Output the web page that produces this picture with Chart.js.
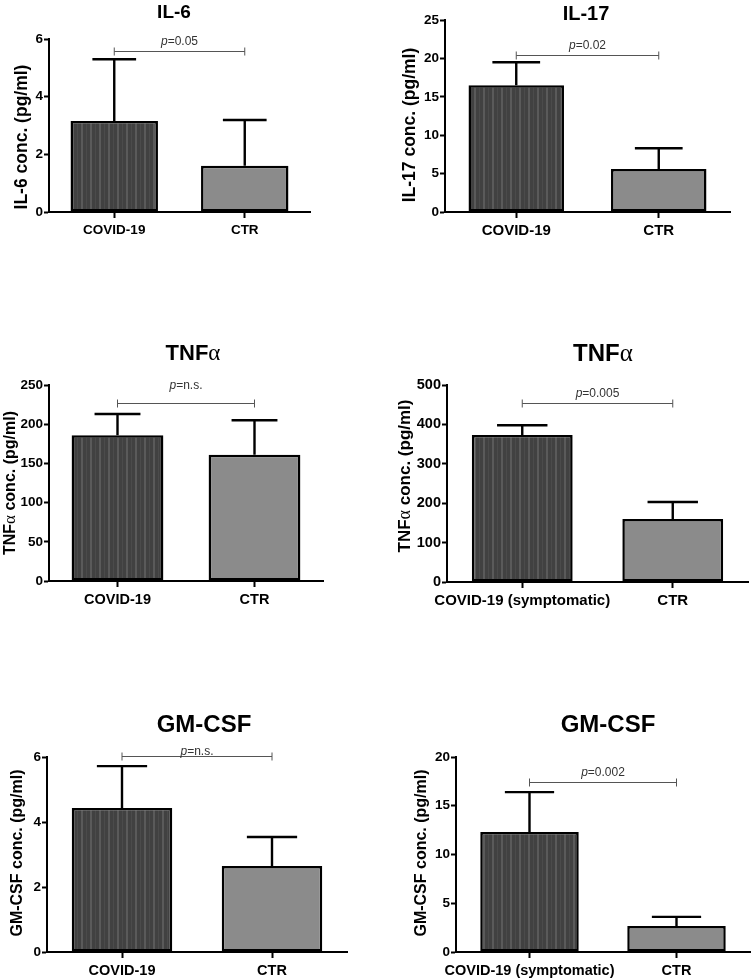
<!DOCTYPE html>
<html>
<head>
<meta charset="utf-8">
<script src="https://cdn.jsdelivr.net/npm/chart.js@4.4.0/dist/chart.umd.min.js"></script>
<style>
  body { margin: 0; background: #fff; }
  #page { position: relative; width: 751px; height: 980px; background: #fff; overflow: hidden; }
  canvas { position: absolute; }
</style>
</head>
<body>
<div id="page"></div>
<script>
// groups on the x axis
var groups = ['COVID-19', 'CTR'];
var groupsSymp = ['COVID-19 (symptomatic)', 'CTR'];

// bar heights (mean) and upper error (SD)
var il6Mean = [3.16, 1.6];
var il6Err = [2.14, 1.59];
var il17Mean = [16.5, 5.6];
var il17Err = [3.0, 2.7];
var tnfMean = [186, 161];
var tnfErr = [27, 44];
var tnfSympMean = [373, 160];
var tnfSympErr = [25, 43];
var gmMean = [4.43, 2.65];
var gmErr = [1.29, 0.89];
var gmSympMean = [12.3, 2.67];
var gmSympErr = [4.1, 0.93];

// y axis ranges and tick steps
var yMax = [6, 25, 250, 500, 6, 20];
var yStep = [2, 5, 50, 100, 2, 5];

// significance brackets
var pLabels = ['0.05', '0.02', 'n.s.', '0.005', 'n.s.', '0.002'];
var bracketLevels = [5.6, 20.5, 227, 455, 6.02, 17.4];

var FONT = "'Liberation Sans', Arial, Helvetica, sans-serif";
var SERIF = "'Liberation Serif', 'Times New Roman', serif";
Chart.defaults.font.family = FONT;

// stripes for the COVID bars
var stripeCanvas = document.createElement('canvas');
stripeCanvas.width = 9; stripeCanvas.height = 4;
var sg = stripeCanvas.getContext('2d');
sg.fillStyle = '#414141'; sg.fillRect(0, 0, 9, 4);
sg.fillStyle = '#5a5a5a'; sg.fillRect(0, 0, 2, 4);
sg.fillStyle = '#4b4b4b'; sg.fillRect(5, 0, 1, 4);
var stripes = sg.createPattern(stripeCanvas, 'repeat');

function richText(str, size) {
  // greek alpha set in a serif face, like the original
  var parts = [];
  str.split(/(α)/).forEach(function (s) {
    if (!s) return;
    if (s === 'α') parts.push({ t: s, f: (size + 1) + 'px ' + SERIF });
    else parts.push({ t: s, f: 'bold ' + size + 'px ' + FONT });
  });
  return parts;
}

// box = canvas [x, y, w, h]; area = plot area [left, top, right, bottom], page px
var panels = [
  { title: 'IL-6', yTitle: 'IL-6 conc. (pg/ml)', labels: groups, mean: il6Mean, err: il6Err,
    box: [0, 0, 375, 245], area: [49, 39, 310, 212], titlePos: [174, 11, 19], yTitlePos: [21, 137, 17.5],
    xFont: 13.5, yFont: 13.5, pGap: 11 },
  { title: 'IL-17', yTitle: 'IL-17 conc. (pg/ml)', labels: groups, mean: il17Mean, err: il17Err,
    box: [375, 0, 376, 245], area: [445, 20, 730, 212], titlePos: [586, 12.5, 20], yTitlePos: [409, 125, 17.5],
    xFont: 15, yFont: 13.5, pGap: 10.5 },
  { title: 'TNFα', yTitle: 'TNFα conc. (pg/ml)', labels: groups, mean: tnfMean, err: tnfErr,
    box: [0, 325, 375, 295], area: [49, 385, 323, 581], titlePos: [193, 352, 22], yTitlePos: [9, 483, 16],
    xFont: 14.5, yFont: 13.5, pGap: 19 },
  { title: 'TNFα', yTitle: 'TNFα conc. (pg/ml)', labels: groupsSymp, mean: tnfSympMean, err: tnfSympErr,
    box: [375, 325, 376, 295], area: [447, 385, 748, 582], titlePos: [603, 352, 24], yTitlePos: [404, 476, 17],
    xFont: 15, yFont: 14.5, pGap: 10.5 },
  { title: 'GM-CSF', yTitle: 'GM-CSF conc. (pg/ml)', labels: groups, mean: gmMean, err: gmErr,
    box: [0, 695, 375, 285], area: [47, 757, 347, 952], titlePos: [204, 723, 24], yTitlePos: [16, 853, 16],
    xFont: 14.5, yFont: 13.5, pGap: 6 },
  { title: 'GM-CSF', yTitle: 'GM-CSF conc. (pg/ml)', labels: groupsSymp, mean: gmSympMean, err: gmSympErr,
    box: [375, 695, 376, 285], area: [456, 757, 750, 952], titlePos: [608, 723, 24], yTitlePos: [420, 853, 16],
    xFont: 14.5, yFont: 13.5, pGap: 11 }
];

function drawParts(ctx, parts, cx, cy, color, rotate) {
  var w = 0;
  parts.forEach(function (p) { ctx.font = p.f; w += ctx.measureText(p.t).width; });
  var size = parseFloat(parts[0].f.match(/(\d+(\.\d+)?)px/)[1]);
  ctx.save();
  ctx.translate(cx, cy);
  if (rotate) ctx.rotate(-Math.PI / 2);
  var x = -w / 2, base = 0.36 * size;
  ctx.fillStyle = color;
  ctx.textAlign = 'left';
  ctx.textBaseline = 'alphabetic';
  parts.forEach(function (p) {
    ctx.font = p.f;
    ctx.fillText(p.t, x, base);
    x += ctx.measureText(p.t).width;
  });
  ctx.restore();
}

var decor = {
  id: 'decor',
  afterDatasetsDraw: function (chart, args, o) {
    var ctx = chart.ctx, xs = chart.scales.x, ys = chart.scales.y;
    var meta = chart.getDatasetMeta(0);
    ctx.save();
    // error bars, upper side only
    ctx.strokeStyle = '#000';
    ctx.lineWidth = 2.4;
    meta.data.forEach(function (bar, i) {
      var top = ys.getPixelForValue(o.mean[i] + o.err[i]);
      var half = bar.width / 4;
      ctx.beginPath();
      ctx.moveTo(bar.x, bar.y);
      ctx.lineTo(bar.x, top);
      ctx.moveTo(bar.x - half, top);
      ctx.lineTo(bar.x + half, top);
      ctx.stroke();
    });
    // bracket
    var by = Math.round(ys.getPixelForValue(o.bracket)) + 0.5;
    var x1 = xs.getPixelForValue(0), x2 = xs.getPixelForValue(1);
    ctx.strokeStyle = '#555';
    ctx.lineWidth = 1;
    ctx.beginPath();
    ctx.moveTo(x1, by); ctx.lineTo(x2, by);
    ctx.moveTo(x1, by - 4); ctx.lineTo(x1, by + 4);
    ctx.moveTo(x2, by - 4); ctx.lineTo(x2, by + 4);
    ctx.stroke();
    drawParts(ctx, [{ t: 'p', f: 'italic 12px ' + FONT }, { t: '=' + o.p, f: '12px ' + FONT }],
      (x1 + x2) / 2, by - o.pGap, '#333');
    // panel title and y axis title
    drawParts(ctx, o.titleParts, o.titleX, o.titleY, '#000');
    drawParts(ctx, o.yTitleParts, o.yTitleX, o.yTitleY, '#000', true);
    ctx.restore();
  }
};

var page = document.getElementById('page');

panels.forEach(function (p, k) {
  var b = p.box, a = p.area;
  var cv = document.createElement('canvas');
  cv.width = b[2]; cv.height = b[3];
  cv.style.left = b[0] + 'px'; cv.style.top = b[1] + 'px';
  cv.style.width = b[2] + 'px'; cv.style.height = b[3] + 'px';
  page.appendChild(cv);

  new Chart(cv.getContext('2d'), {
    type: 'bar',
    data: {
      labels: p.labels,
      datasets: [{
        data: p.mean,
        backgroundColor: [stripes, '#8b8b8b'],
        borderColor: '#000',
        borderWidth: 2.5,
        borderSkipped: false,
        barPercentage: 0.67,
        categoryPercentage: 1
      }]
    },
    options: {
      responsive: false,
      animation: false,
      devicePixelRatio: 1,
      layout: { padding: { top: a[1] - b[1], right: b[0] + b[2] - a[2], left: 0, bottom: 0 } },
      plugins: {
        legend: { display: false },
        tooltip: { enabled: false },
        decor: {
          mean: p.mean, err: p.err, bracket: bracketLevels[k], p: pLabels[k], pGap: p.pGap,
          titleParts: richText(p.title, p.titlePos[2]),
          titleX: p.titlePos[0] - b[0], titleY: p.titlePos[1] - b[1],
          yTitleParts: richText(p.yTitle, p.yTitlePos[2]),
          yTitleX: p.yTitlePos[0] - b[0], yTitleY: p.yTitlePos[1] - b[1]
        }
      },
      scales: {
        x: {
          offset: true,
          grid: { display: true, offset: false, drawOnChartArea: false, tickLength: 6, tickWidth: 2, tickColor: '#000' },
          border: { color: '#000', width: 2 },
          ticks: { color: '#000', font: { size: p.xFont, weight: 'bold' }, padding: 4, maxRotation: 0, autoSkip: false },
          afterFit: function (s) { s.height = b[1] + b[3] - a[3]; }
        },
        y: {
          min: 0,
          max: yMax[k],
          ticks: { stepSize: yStep[k], color: '#000', font: { size: p.yFont, weight: 'bold' }, padding: 1 },
          grid: { display: true, drawOnChartArea: false, tickLength: 5, tickWidth: 2, tickColor: '#000' },
          border: { color: '#000', width: 2 },
          afterFit: function (s) { s.width = a[0] - b[0]; }
        }
      }
    },
    plugins: [decor]
  });
});
</script>
</body>
</html>
